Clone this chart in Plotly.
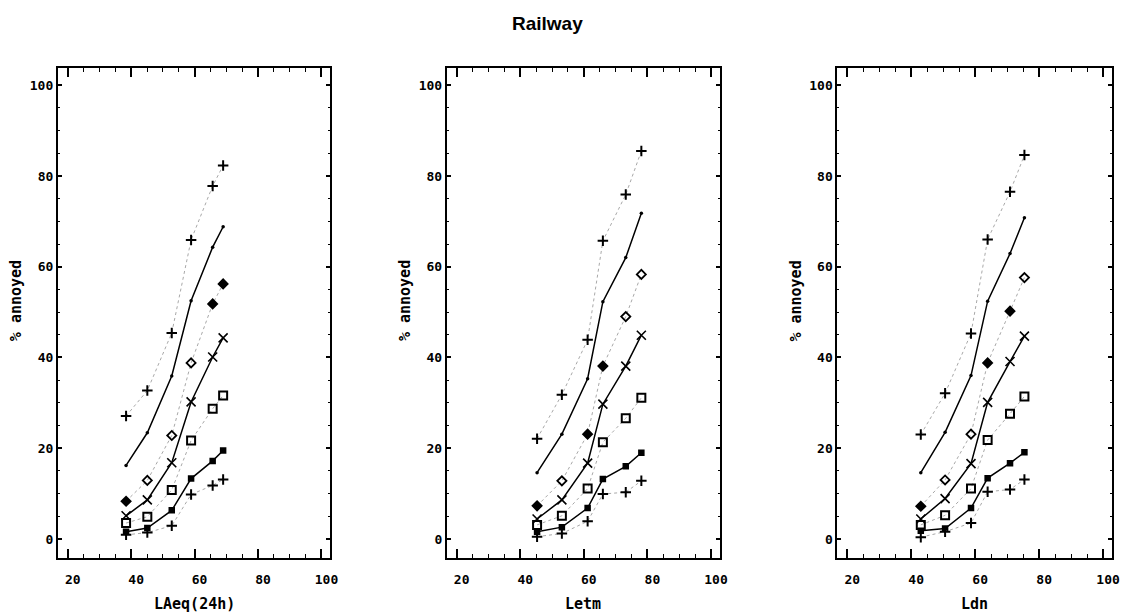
import plotly.graph_objects as go

# ---------------- data ----------------
x_laeq = [38.4, 45.1, 52.8, 58.9, 65.7, 69.0]
x_letm = [45.3, 53.1, 61.2, 66.0, 73.2, 78.1]
x_ldn = [43.0, 50.6, 58.7, 63.9, 70.9, 75.4]

laeq_plus_top = [27.1, 32.7, 45.4, 65.9, 77.8, 82.3]
laeq_dot = [16.2, 23.4, 35.9, 52.5, 64.3, 68.8]
laeq_diamond = [8.3, 12.9, 22.8, 38.8, 51.8, 56.2]
laeq_x = [5.1, 8.6, 16.8, 30.2, 40.1, 44.3]
laeq_square = [3.5, 4.9, 10.8, 21.7, 28.7, 31.6]
laeq_filled = [1.6, 2.4, 6.3, 13.3, 17.2, 19.5]
laeq_plus_bottom = [0.9, 1.4, 2.9, 9.8, 11.8, 13.1]

letm_plus_top = [22.1, 31.8, 43.9, 65.7, 75.9, 85.5]
letm_dot = [14.6, 23.1, 35.3, 52.3, 62.0, 71.8]
letm_diamond = [7.3, 12.8, 23.1, 38.1, 49.0, 58.3]
letm_x = [4.4, 8.6, 16.7, 29.7, 38.1, 44.9]
letm_square = [3.1, 5.1, 11.1, 21.3, 26.6, 31.1]
letm_filled = [1.6, 2.6, 6.8, 13.2, 16.0, 19.0]
letm_plus_bottom = [0.5, 1.2, 3.9, 9.9, 10.3, 12.8]

ldn_plus_top = [23.0, 32.1, 45.3, 66.0, 76.5, 84.6]
ldn_dot = [14.6, 23.5, 36.0, 52.4, 62.9, 70.8]
ldn_diamond = [7.2, 13.0, 23.1, 38.8, 50.2, 57.6]
ldn_x = [4.4, 8.9, 16.6, 30.1, 39.1, 44.7]
ldn_square = [3.1, 5.2, 11.1, 21.8, 27.6, 31.4]
ldn_filled = [1.8, 2.3, 6.8, 13.4, 16.7, 19.1]
ldn_plus_bottom = [0.4, 1.6, 3.5, 10.4, 10.9, 13.1]

x_titles = ["LAeq(24h)", "Letm", "Ldn"]
y_title = "% annoyed"
main_title = "Railway"
x_tickvals = [20, 40, 60, 80, 100]
y_tickvals = [0, 20, 40, 60, 80, 100]

panels = [
    (x_laeq, [laeq_plus_top, laeq_dot, laeq_diamond, laeq_x, laeq_square, laeq_filled, laeq_plus_bottom]),
    (x_letm, [letm_plus_top, letm_dot, letm_diamond, letm_x, letm_square, letm_filled, letm_plus_bottom]),
    (x_ldn, [ldn_plus_top, ldn_dot, ldn_diamond, ldn_x, ldn_square, ldn_filled, ldn_plus_bottom]),
]

# ---------------- styles ----------------
GREY = "#a8a8a8"
series_styles = [
    dict(line=dict(color=GREY, width=1, dash="dot"),
         marker=dict(symbol="cross-thin", size=7.5, line=dict(width=2, color="black"), color="black")),
    dict(line=dict(color="black", width=1.5),
         marker=dict(symbol="circle", size=3.5, color="black")),
    dict(line=dict(color=GREY, width=1, dash="dot"),
         marker=dict(symbol="diamond-open", size=7, line=dict(width=1.8, color="black"), color="black")),
    dict(line=dict(color="black", width=1.5),
         marker=dict(symbol="x-thin", size=9, line=dict(width=1.6, color="black"), color="black")),
    dict(line=dict(color=GREY, width=1, dash="dot"),
         marker=dict(symbol="square-open", size=8, line=dict(width=2, color="black"), color="black")),
    dict(line=dict(color="black", width=1.5),
         marker=dict(symbol="square", size=6.5, color="black")),
    dict(line=dict(color=GREY, width=1, dash="dot"),
         marker=dict(symbol="cross-thin", size=7.5, line=dict(width=2, color="black"), color="black")),
]
# diamonds that appear filled in the scan
diamond_symbols = [
    ["diamond", "diamond-open", "diamond-open", "diamond-open", "diamond", "diamond"],
    ["diamond", "diamond-open", "diamond", "diamond", "diamond-open", "diamond-open"],
    ["diamond", "diamond-open", "diamond-open", "diamond", "diamond", "diamond-open"],
]

W, H = 1128, 613
x_domains_px = [(58.3, 332.7), (450.0, 725.0), (843.3, 1120.0)]
y_top_px, y_bot_px = 67.5, 558.0
x_range = [16.9, 102.8]
y_range = [-4.2, 103.9]

fig = go.Figure()
for p, (xs, series) in enumerate(panels):
    xa = "x" if p == 0 else f"x{p + 1}"
    ya = "y" if p == 0 else f"y{p + 1}"
    for s, ys in enumerate(series):
        st = series_styles[s]
        marker = dict(st["marker"])
        if s == 2:
            marker = dict(marker, symbol=diamond_symbols[p])
        fig.add_trace(go.Scatter(
            x=xs, y=ys, xaxis=xa, yaxis=ya, mode="lines+markers",
            line=st["line"], marker=marker, showlegend=False,
            hoverinfo="x+y",
        ))

tick_font = dict(family="DejaVu Sans Mono", size=13, color="black", weight="bold")
title_font = dict(family="DejaVu Sans Mono", size=15, color="black", weight="bold")

layout = dict(
    width=W, height=H, paper_bgcolor="white", plot_bgcolor="white",
    margin=dict(l=0, r=0, t=0, b=0), showlegend=False,
)
annotations = []
for p in range(3):
    k = "" if p == 0 else str(p + 1)
    x0, x1 = x_domains_px[p]
    layout["xaxis" + k] = dict(
        domain=[x0 / W, x1 / W], range=x_range, anchor="y" + k,
        tickvals=x_tickvals, ticks="inside", ticklen=9, tickwidth=1.5, tickcolor="black",
        minor=dict(dtick=5, tick0=0, ticks="inside", ticklen=4.5, tickwidth=1.2, tickcolor="black"),
        showline=True, linewidth=2, linecolor="black", mirror="ticks",
        showgrid=False, zeroline=False, tickfont=tick_font,
        ticklabelshift=5, ticklabelstandoff=8,
    )
    layout["yaxis" + k] = dict(
        domain=[1 - y_bot_px / H, 1 - y_top_px / H], range=y_range, anchor="x" + k,
        tickvals=y_tickvals, ticks="inside", ticklen=4, tickwidth=1.5, tickcolor="black",
        minor=dict(dtick=5, tick0=0, ticks="inside", ticklen=2, tickwidth=1.2, tickcolor="black"),
        showline=True, linewidth=2, linecolor="black", mirror="ticks",
        showgrid=False, zeroline=False, tickfont=tick_font,
    )
    annotations.append(dict(
        text=x_titles[p], x=(x0 + x1) / 2 / W, y=1 - 604 / H, xref="paper", yref="paper",
        showarrow=False, font=title_font, xanchor="center", yanchor="middle",
    ))
    annotations.append(dict(
        text=y_title, x=(x0 - 42) / W, y=1 - 301 / H, xref="paper", yref="paper",
        showarrow=False, font=title_font, textangle=-90, xanchor="center", yanchor="middle",
    ))
annotations.append(dict(
    text=main_title, x=551 / W, y=1 - 24 / H, xref="paper", yref="paper", showarrow=False,
    font=dict(family="Liberation Sans", size=19, color="black", weight="bold"),
    xanchor="center", yanchor="middle",
))
layout["annotations"] = annotations
fig.update_layout(**layout)

fig.write_html("out.html")
